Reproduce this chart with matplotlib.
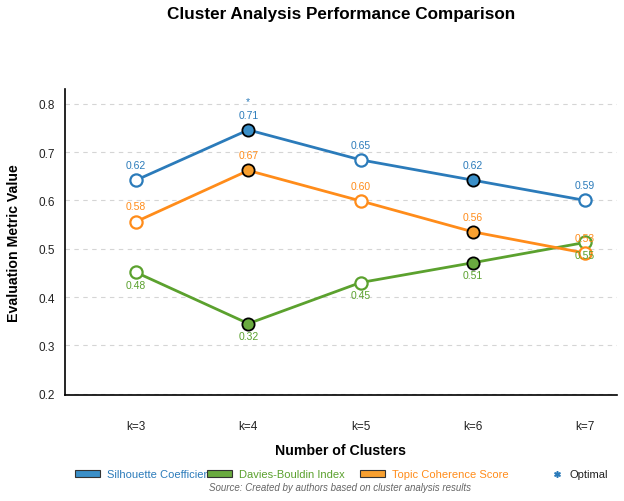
import matplotlib
matplotlib.use('agg')
from matplotlib import pyplot as plt
from matplotlib.patches import Patch
from matplotlib.lines import Line2D

plt.rcParams['font.family'] = ['Liberation Sans', 'DejaVu Sans']

# data
clusters = ['k=3', 'k=4', 'k=5', 'k=6', 'k=7']
silhouette = [0.642, 0.746, 0.684, 0.642, 0.600]
davies_bouldin = [0.451, 0.345, 0.430, 0.471, 0.513]
topic_coherence = [0.556, 0.662, 0.599, 0.535, 0.491]
silhouette_labels = ['0.62', '0.71', '0.65', '0.62', '0.59']
davies_labels = ['0.48', '0.32', '0.45', '0.51', '0.55']
topic_labels = ['0.58', '0.67', '0.60', '0.56', '0.53']
highlighted = [1, 3]   # filled markers at k=4 and k=6
optimal = 1            # k=4

series = [
    ('Silhouette Coefficient', silhouette, silhouette_labels, '#2b7bba', '#3a8fc8', 'up'),
    ('Davies-Bouldin Index', davies_bouldin, davies_labels, '#5ba12e', '#6aaa40', 'down'),
    ('Topic Coherence Score', topic_coherence, topic_labels, '#ff8c1a', '#f8a030', 'up'),
]

fig = plt.figure(figsize=(6.24, 5.02), dpi=100)
ax = fig.add_axes([0.1034, 0.211, 0.8856, 0.610])

x = list(range(len(clusters)))
for name, vals, labs, col, fill, side in series:
    ax.plot(x, vals, color=col, linewidth=2, zorder=2)
    for i, v in enumerate(vals):
        if i in highlighted:
            ax.plot(i, v, 'o', ms=8.8, mfc=fill, mec='black', mew=1.3, zorder=3)
        else:
            ax.plot(i, v, 'o', ms=8.8, mfc='white', mec=col, mew=1.6, zorder=3)
        off = 11 if side == 'up' else -9
        ax.annotate(labs[i], (i, v), xytext=(0, off), textcoords='offset points',
                    ha='center', va='center', fontsize=7.5, color=col, zorder=4)

ax.annotate('*', (optimal, silhouette[optimal]), xytext=(0, 21), textcoords='offset points',
            ha='center', va='center', fontsize=7.5, color='#2b7bba')

ax.set_xlim(-0.637, 4.285)
ax.set_ylim(0.197, 0.831)
ax.set_xticks(x)
ax.set_xticklabels(clusters)
ax.set_yticks([0.2, 0.3, 0.4, 0.5, 0.6, 0.7, 0.8])
ax.set_yticklabels(['0.2', '0.3', '0.4', '0.5', '0.6', '0.7', '0.8'])
ax.tick_params(axis='x', length=0, pad=18, labelsize=8.5, labelcolor='#222222')
ax.tick_params(axis='y', length=0, pad=7, labelsize=8.5, labelcolor='#222222')
ax.grid(axis='y', color='#d5d5d5', linestyle=(0, (4, 4)), linewidth=0.8)
ax.set_axisbelow(True)
for s in ['top', 'right']:
    ax.spines[s].set_visible(False)
for s in ['left', 'bottom']:
    ax.spines[s].set_linewidth(1.2)

ax.set_xlabel('Number of Clusters', fontsize=10.2, fontweight='bold')
ax.xaxis.set_label_coords(0.5, -0.157)
ax.set_ylabel('Evaluation Metric Value', fontsize=10.2, fontweight='bold')
ax.yaxis.set_label_coords(-0.079, 0.5)

fig.text(341 / 624, 1 - 15 / 502, 'Cluster Analysis Performance Comparison',
         ha='center', va='center', fontsize=12.3, fontweight='bold')

# legend entries placed one by one
leg_y = 1 - 475.5 / 502
entries = [
    (75, Patch(facecolor=series[0][4], edgecolor='#333333', linewidth=0.8), series[0][0], series[0][3], 2.25),
    (207, Patch(facecolor=series[1][4], edgecolor='#333333', linewidth=0.8), series[1][0], series[1][3], 2.25),
    (360, Patch(facecolor=series[2][4], edgecolor='#333333', linewidth=0.8), series[2][0], series[2][3], 2.25),
    (551, Line2D([], [], marker='$*$', linestyle='none', color='#2b7bba', markersize=4), 'Optimal', '#222222', 1.0),
]
for xp, h, lab, tc, hl in entries:
    lg = fig.legend(handles=[h], labels=[lab], loc='center left', bbox_to_anchor=(xp / 624, leg_y),
                    frameon=False, fontsize=8, handlelength=hl, handleheight=0.5,
                    handletextpad=0.63, borderpad=0, borderaxespad=0, labelcolor=tc)

fig.text(340 / 624, 1 - 488 / 502, 'Source: Created by authors based on cluster analysis results',
         ha='center', va='center', fontsize=7, style='italic', color='#666666')

fig.savefig('out.png', dpi=100)
